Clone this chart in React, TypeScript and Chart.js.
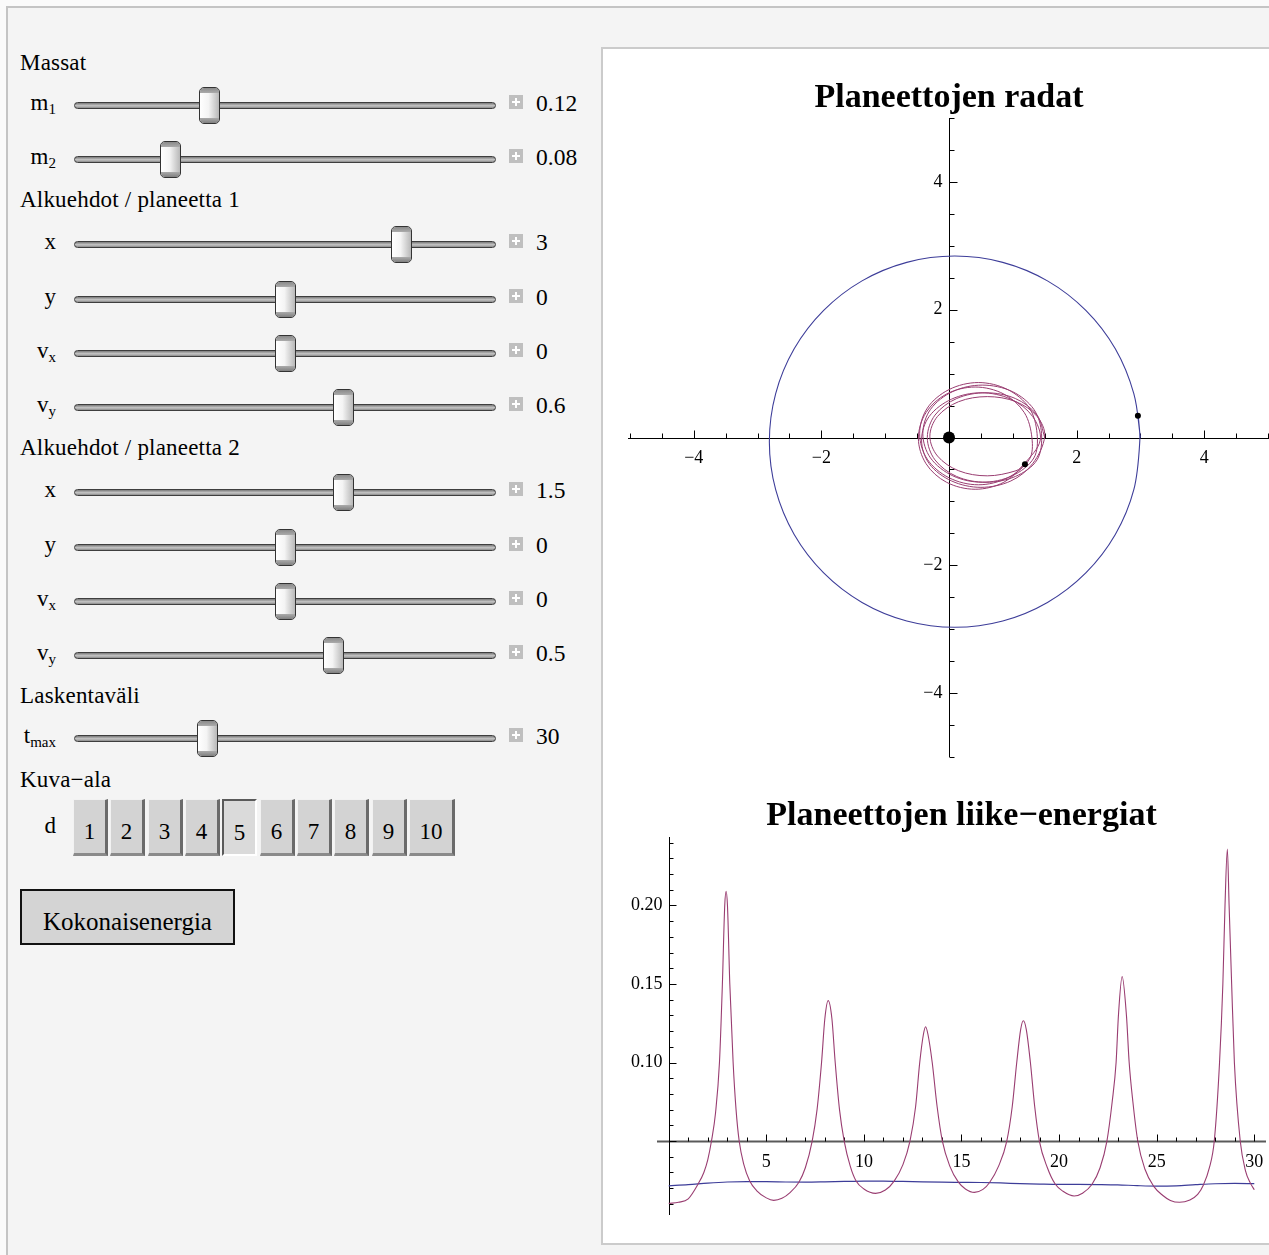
import React, { useEffect, useRef } from "react";
import { Chart, registerables } from "chart.js";

Chart.register(...registerables);

const FONT = '"Liberation Serif", "Times New Roman", serif';
const BLUE = "#3D3D99";
const PURPLE = "#993D71";

// ---------- Orbit plot (Planeettojen radat) ----------
const orbit1X = [3.0, 2.896, 2.606, 2.144, 1.543, 0.842, 0.09, -0.662, -1.363, -1.964, -2.426, -2.716, -2.815, -2.716, -2.426, -1.964, -1.363, -0.662, 0.09, 0.842, 1.543, 2.144, 2.606, 2.896, 2.99, 2.966];
const orbit1Y = [0.0, 0.687, 1.388, 1.989, 2.451, 2.741, 2.84, 2.741, 2.451, 1.989, 1.388, 0.687, -0.065, -0.817, -1.518, -2.119, -2.581, -2.871, -2.97, -2.871, -2.581, -2.119, -1.518, -0.817, -0.05, 0.339];

const orbit2X = [
  1.5, 1.38, 1.04, 0.58, 0.12, -0.22, -0.34, -0.22, 0.12, 0.58, 1.04, 1.38,
  1.45, 1.33, 0.99, 0.52, 0.06, -0.29, -0.41, -0.29, 0.06, 0.52, 0.99, 1.33,
  1.38, 1.26, 0.92, 0.46, 0.0, -0.34, -0.46, -0.34, 0.0, 0.46, 0.92, 1.26,
  1.3, 1.18, 0.86, 0.41, -0.04, -0.36, -0.48, -0.36, -0.04, 0.41, 0.86, 1.18,
  1.43, 1.31, 0.97, 0.5, 0.04, -0.31, -0.43, -0.31, 0.04, 0.5, 0.97, 1.31,
  1.5, 1.38, 1.05, 0.6, 0.15, -0.18, -0.3, -0.18, 0.15, 0.6, 1.05, 1.19,
];
const orbit2Y = [
  0.0, 0.35, 0.61, 0.7, 0.61, 0.35, 0.0, -0.35, -0.61, -0.7, -0.61, -0.35,
  0.06, 0.44, 0.72, 0.82, 0.72, 0.44, 0.06, -0.32, -0.6, -0.7, -0.6, -0.32,
  0.06, 0.46, 0.75, 0.86, 0.75, 0.46, 0.06, -0.34, -0.63, -0.74, -0.63, -0.34,
  -0.01, 0.39, 0.68, 0.79, 0.68, 0.39, -0.01, -0.41, -0.7, -0.81, -0.7, -0.41,
  -0.04, 0.33, 0.6, 0.7, 0.6, 0.33, -0.04, -0.41, -0.68, -0.78, -0.68, -0.41,
  0.02, 0.33, 0.56, 0.64, 0.56, 0.33, 0.02, -0.29, -0.52, -0.6, -0.52, -0.42,
];

const bodyX = [0, 2.96, 1.19];
const bodyY = [0, 0.34, -0.42];
const bodyRadius = [6, 3, 3];

const orbitTickValues = [-4, -2, 2, 4];
const orbitTickLabels = ["\u22124", "\u22122", "2", "4"];

// ---------- Energy plot (Planeettojen liike−energiat) ----------
const ke1Time = [0, 1, 2, 3, 4, 5, 6, 7, 8, 9, 10, 11, 12, 13, 14, 15, 16, 17, 18, 19, 20, 21, 22, 23, 24, 25, 26, 27, 28, 29, 30];
const ke1Value = [0.0215, 0.0222, 0.0232, 0.0239, 0.0241, 0.0241, 0.0239, 0.0238, 0.024, 0.0243, 0.0245, 0.0245, 0.0243, 0.024, 0.0238, 0.0237, 0.0236, 0.0233, 0.0229, 0.0226, 0.0224, 0.0224, 0.0223, 0.0221, 0.0216, 0.0213, 0.0215, 0.0222, 0.0228, 0.023, 0.0229];

const ke2Time = [
  0, 0.5, 1.0, 1.5, 1.8, 2.0, 2.19, 2.4, 2.6, 2.75, 2.87, 2.94, 3.01, 3.13, 3.3, 3.45, 3.61, 3.85, 4.15, 4.5, 5.0, 5.38,
  5.8, 6.2, 6.67, 7.0, 7.35, 7.6, 7.83, 8.0, 8.17, 8.36, 8.53, 8.75, 8.99, 9.3, 9.6, 10.0, 10.6,
  11.1, 11.55, 12.0, 12.36, 12.65, 12.86, 13.05, 13.16, 13.28, 13.5, 13.75, 14.02, 14.4, 14.84, 15.2, 15.66,
  16.1, 16.44, 16.9, 17.32, 17.6, 17.83, 18.03, 18.17, 18.32, 18.53, 18.75, 18.99, 19.4, 19.8, 20.2, 20.77,
  21.2, 21.68, 22.1, 22.45, 22.72, 22.92, 23.04, 23.23, 23.45, 23.59, 23.78, 24.03, 24.4, 24.84, 25.3, 25.7, 26.17,
  26.7, 27.1, 27.4, 27.7, 27.95, 28.22, 28.39, 28.5, 28.62, 28.71, 28.84, 28.98, 29.28, 29.55, 29.8, 30.0,
];
const ke2Value = [
  0.0103, 0.011, 0.0132, 0.0225, 0.03, 0.038, 0.05, 0.068, 0.1, 0.15, 0.2, 0.209, 0.2, 0.15, 0.1, 0.07, 0.05, 0.035, 0.0245, 0.0185, 0.0138, 0.0122,
  0.0135, 0.017, 0.0238, 0.033, 0.05, 0.07, 0.1, 0.128, 0.1394, 0.128, 0.1, 0.07, 0.05, 0.034, 0.0245, 0.0195, 0.0167,
  0.0188, 0.0245, 0.035, 0.05, 0.072, 0.1, 0.118, 0.1228, 0.118, 0.1, 0.072, 0.05, 0.034, 0.0238, 0.0195, 0.0173,
  0.0192, 0.0236, 0.034, 0.05, 0.072, 0.1, 0.121, 0.1266, 0.121, 0.1, 0.072, 0.05, 0.033, 0.0226, 0.018, 0.015,
  0.0168, 0.0223, 0.033, 0.05, 0.075, 0.1, 0.13, 0.1547, 0.13, 0.1, 0.075, 0.05, 0.032, 0.0213, 0.0155, 0.0122, 0.011,
  0.0125, 0.016, 0.0222, 0.033, 0.05, 0.1, 0.15, 0.2, 0.236, 0.2, 0.15, 0.1, 0.05, 0.031, 0.0232, 0.019,
];

const energyXTickValues = [5, 10, 15, 20, 25, 30];
const energyXTickLabels = ["5", "10", "15", "20", "25", "30"];
const energyYTickValues = [0.1, 0.15, 0.2];
const energyYTickLabels = ["0.10", "0.15", "0.20"];

// ---------- Controls ----------
const headerTexts = ["Massat", "Alkuehdot / planeetta 1", "Alkuehdot / planeetta 2", "Laskentaväli", "Kuva\u2212ala"];
const headerY = [63, 200, 448, 696, 780];
const sliderBase = ["m", "m", "x", "y", "v", "v", "x", "y", "v", "v", "t"];
const sliderSub = ["1", "2", "", "", "x", "y", "", "", "x", "y", "max"];
const sliderValues = ["0.12", "0.08", "3", "0", "0", "0.6", "1.5", "0", "0", "0.5", "30"];
const sliderThumbX = [209, 170, 401, 285, 285, 343, 343, 285, 285, 333, 207];
const sliderRowY = [105, 159, 244, 299, 353, 407, 492, 547, 601, 655, 738];
const dLabels = ["1", "2", "3", "4", "5", "6", "7", "8", "9", "10"];
const dLeft = [73, 110, 148, 185, 222, 260, 297, 334, 372, 409];
const dWidth = [35, 35, 35, 35, 35, 35, 35, 35, 35, 46];
const dSelected = 4;

type AxisSpec = {
  crossX: number;
  crossY: number;
  xMinorStep: number;
  xMajorStep: number;
  yMinorStep: number;
  yMajorStep: number;
  xMajorLen: number;
  xMinorLen: number;
  yMajorLen: number;
  yMinorLen: number;
  xTickValues: number[];
  xTickLabels: string[];
  yTickValues: number[];
  yTickLabels: string[];
  xLabelOffset: number;
  yLabelGap: number;
  xAxisColor: string;
  xAxisWidth: number;
  title: string;
  titleOffset: number;
};

function makeAxesPlugin(spec: AxisSpec) {
  return {
    id: "mmaAxes",
    beforeDatasetsDraw(chart: any) {
      const ctx = chart.ctx as CanvasRenderingContext2D;
      const a = chart.chartArea;
      const xs = chart.scales.x;
      const ys = chart.scales.y;
      const ox = Math.round(xs.getPixelForValue(spec.crossX)) + 0.5;
      const oy = Math.round(ys.getPixelForValue(spec.crossY)) + 0.5;
      ctx.save();
      ctx.strokeStyle = spec.xAxisColor;
      ctx.lineWidth = spec.xAxisWidth;
      ctx.beginPath();
      ctx.moveTo(a.left, oy);
      ctx.lineTo(a.right, oy);
      ctx.stroke();
      ctx.strokeStyle = "#000";
      ctx.lineWidth = 1;
      ctx.beginPath();
      ctx.moveTo(ox, a.top);
      ctx.lineTo(ox, a.bottom);
      ctx.stroke();
      ctx.beginPath();
      for (let i = Math.ceil(xs.min / spec.xMinorStep - 1e-9); i * spec.xMinorStep <= xs.max + 1e-9; i++) {
        const v = i * spec.xMinorStep;
        const r = v / spec.xMajorStep;
        const major = Math.abs(r - Math.round(r)) < 1e-6;
        const px = Math.round(xs.getPixelForValue(v)) + 0.5;
        ctx.moveTo(px, oy);
        ctx.lineTo(px, oy - (major ? spec.xMajorLen : spec.xMinorLen));
      }
      for (let i = Math.ceil(ys.min / spec.yMinorStep - 1e-9); i * spec.yMinorStep <= ys.max + 1e-9; i++) {
        const v = i * spec.yMinorStep;
        const r = v / spec.yMajorStep;
        const major = Math.abs(r - Math.round(r)) < 1e-6;
        const py = Math.round(ys.getPixelForValue(v)) + 0.5;
        ctx.moveTo(ox, py);
        ctx.lineTo(ox + (major ? spec.yMajorLen : spec.yMinorLen), py);
      }
      ctx.stroke();
      ctx.fillStyle = "#000";
      ctx.font = '18px "Liberation Serif", serif';
      ctx.textAlign = "center";
      ctx.textBaseline = "alphabetic";
      spec.xTickValues.forEach((v, i) => {
        ctx.fillText(spec.xTickLabels[i], xs.getPixelForValue(v), oy + spec.xLabelOffset);
      });
      ctx.textAlign = "right";
      ctx.textBaseline = "middle";
      spec.yTickValues.forEach((v, i) => {
        ctx.fillText(spec.yTickLabels[i], ox - spec.yLabelGap, ys.getPixelForValue(v));
      });
      ctx.font = 'bold 34px "Liberation Serif", serif';
      ctx.textAlign = "center";
      ctx.textBaseline = "alphabetic";
      ctx.fillText(spec.title, (a.left + a.right) / 2, a.top - spec.titleOffset);
      ctx.restore();
    },
  };
}

function Slider({ i }: { i: number }) {
  const y = sliderRowY[i];
  const tx = sliderThumbX[i];
  return (
    <>
      <div
        style={{
          position: "absolute",
          left: 8,
          width: 48,
          top: y - 17,
          height: 30,
          lineHeight: "30px",
          textAlign: "right",
          fontSize: 23,
          whiteSpace: "nowrap",
        }}
      >
        {sliderBase[i]}
        {sliderSub[i] ? (
          <span style={{ fontSize: 15, position: "relative", top: 4 }}>{sliderSub[i]}</span>
        ) : null}
      </div>
      <div
        style={{
          position: "absolute",
          left: 74,
          top: y - 3,
          width: 422,
          height: 7,
          boxSizing: "border-box",
          border: "1px solid #3e3e3e",
          borderRadius: 4,
          background: "linear-gradient(#7a7a7a, #c6c6c6 55%, #8a8a8a)",
        }}
      />
      <div
        style={{
          position: "absolute",
          left: tx - 10.5,
          top: y - 18,
          width: 21,
          height: 37,
          boxSizing: "border-box",
          border: "1px solid #333",
          borderRadius: 5,
          background: "linear-gradient(to right, #ffffff 0%, #f4f4f4 45%, #b8b8b8 100%)",
          overflow: "hidden",
        }}
      >
        <div style={{ position: "absolute", left: 0, right: 0, top: 0, height: 5, background: "linear-gradient(#8a8a8a, #ababab)" }} />
        <div style={{ position: "absolute", left: 0, right: 0, bottom: 0, height: 5, background: "linear-gradient(#ababab, #808080)" }} />
      </div>
      <div style={{ position: "absolute", left: 509, top: y - 10, width: 14, height: 14, background: "#bfbfbf" }}>
        <div style={{ position: "absolute", left: 3, top: 6, width: 8, height: 2, background: "#ffffff" }} />
        <div style={{ position: "absolute", left: 6, top: 3, width: 2, height: 8, background: "#ffffff" }} />
      </div>
      <div
        style={{
          position: "absolute",
          left: 536,
          top: y - 17,
          height: 30,
          lineHeight: "30px",
          fontSize: 23.5,
          whiteSpace: "nowrap",
        }}
      >
        {sliderValues[i]}
      </div>
    </>
  );
}

export default function App() {
  const orbitRef = useRef<HTMLCanvasElement>(null);
  const energyRef = useRef<HTMLCanvasElement>(null);

  useEffect(() => {
    const orbit1 = orbit1X.map((x, i) => ({ x, y: orbit1Y[i] }));
    const orbit2 = orbit2X.map((x, i) => ({ x, y: orbit2Y[i] }));
    const bodies = bodyX.map((x, i) => ({ x, y: bodyY[i] }));

    const orbitChart = new Chart(orbitRef.current as HTMLCanvasElement, {
      type: "scatter",
      data: {
        datasets: [
          {
            data: bodies,
            showLine: false,
            pointRadius: bodyRadius,
            pointBackgroundColor: "#000",
            pointBorderWidth: 0,
            order: 0,
          },
          {
            data: orbit2,
            showLine: true,
            borderColor: PURPLE,
            borderWidth: 1,
            pointRadius: 0,
            tension: 0.34,
            order: 1,
          },
          {
            data: orbit1,
            showLine: true,
            borderColor: BLUE,
            borderWidth: 1.1,
            pointRadius: 0,
            tension: 0.34,
            order: 2,
          },
        ],
      } as any,
      options: {
        responsive: false,
        animation: false,
        events: [],
        layout: { padding: { left: 27, top: 71, right: 31, bottom: 23 } },
        scales: {
          x: { type: "linear", min: -5.03, max: 5.03, display: false },
          y: { type: "linear", min: -5, max: 5, display: false },
        },
        plugins: { legend: { display: false }, tooltip: { enabled: false } },
      } as any,
      plugins: [
        makeAxesPlugin({
          crossX: 0,
          crossY: 0,
          xMinorStep: 0.5,
          xMajorStep: 2,
          yMinorStep: 0.5,
          yMajorStep: 2,
          xMajorLen: 8,
          xMinorLen: 5,
          yMajorLen: 8,
          yMinorLen: 5,
          xTickValues: orbitTickValues,
          xTickLabels: orbitTickLabels,
          yTickValues: orbitTickValues,
          yTickLabels: orbitTickLabels,
          xLabelOffset: 24,
          yLabelGap: 7,
          xAxisColor: "#000",
          xAxisWidth: 1,
          title: "Planeettojen radat",
          titleOffset: 11,
        }),
      ],
    });

    const ke1 = ke1Time.map((x, i) => ({ x, y: ke1Value[i] }));
    const ke2 = ke2Time.map((x, i) => ({ x, y: ke2Value[i] }));

    const energyChart = new Chart(energyRef.current as HTMLCanvasElement, {
      type: "scatter",
      data: {
        datasets: [
          {
            data: ke2,
            showLine: true,
            borderColor: PURPLE,
            borderWidth: 1.1,
            pointRadius: 0,
            cubicInterpolationMode: "monotone",
            order: 0,
          },
          {
            data: ke1,
            showLine: true,
            borderColor: BLUE,
            borderWidth: 1.2,
            pointRadius: 0,
            cubicInterpolationMode: "monotone",
            order: 1,
          },
        ],
      } as any,
      options: {
        responsive: false,
        animation: false,
        events: [],
        layout: { padding: { left: 56, top: 57, right: 35, bottom: 30 } },
        scales: {
          x: { type: "linear", min: -0.6, max: 30.6, display: false },
          y: { type: "linear", min: 0.0029, max: 0.2436, display: false },
        },
        plugins: { legend: { display: false }, tooltip: { enabled: false } },
      } as any,
      plugins: [
        makeAxesPlugin({
          crossX: 0,
          crossY: 0.05,
          xMinorStep: 1,
          xMajorStep: 5,
          yMinorStep: 0.01,
          yMajorStep: 0.05,
          xMajorLen: 7,
          xMinorLen: 4,
          yMajorLen: 7,
          yMinorLen: 4,
          xTickValues: energyXTickValues,
          xTickLabels: energyXTickLabels,
          yTickValues: energyYTickValues,
          yTickLabels: energyYTickLabels,
          xLabelOffset: 25,
          yLabelGap: 7,
          xAxisColor: "#5a5a5a",
          xAxisWidth: 2,
          title: "Planeettojen liike\u2212energiat",
          titleOffset: 12,
        }),
      ],
    });

    return () => {
      orbitChart.destroy();
      energyChart.destroy();
    };
  }, []);

  return (
    <div
      style={{
        position: "absolute",
        left: 0,
        top: 0,
        width: 1269,
        height: 1255,
        overflow: "hidden",
        background: "#fafafa",
        fontFamily: FONT,
        color: "#000",
      }}
    >
      <div
        style={{
          position: "absolute",
          left: 6,
          top: 6,
          width: 1400,
          height: 1400,
          borderLeft: "2px solid #c4c4c4",
          borderTop: "2px solid #c4c4c4",
          background: "#f4f4f4",
        }}
      />
      {headerTexts.map((t, i) => (
        <div
          key={"h" + i}
          style={{
            position: "absolute",
            left: 20,
            top: headerY[i] - 15,
            height: 30,
            lineHeight: "30px",
            fontSize: 23,
            letterSpacing: 0.2,
            whiteSpace: "nowrap",
          }}
        >
          {t}
        </div>
      ))}
      {sliderRowY.map((_, i) => (
        <Slider key={"s" + i} i={i} />
      ))}
      <div
        style={{
          position: "absolute",
          left: 8,
          width: 48,
          top: 811,
          height: 30,
          lineHeight: "30px",
          textAlign: "right",
          fontSize: 23,
        }}
      >
        d
      </div>
      {dLabels.map((t, i) => {
        const sel = i === dSelected;
        return (
          <div
            key={"d" + i}
            style={{
              position: "absolute",
              left: dLeft[i],
              top: 799,
              width: dWidth[i],
              height: 57,
              boxSizing: "border-box",
              background: sel ? "#dadada" : "#d3d3d3",
              borderTop: sel ? "2px solid #5a5a5a" : "1px solid #f2f2f2",
              borderLeft: sel ? "2px solid #5a5a5a" : "1px solid #f2f2f2",
              borderRight: sel ? "2px solid #ffffff" : "3px solid #6a6a6a",
              borderBottom: sel ? "2px solid #ffffff" : "3px solid #8a8a8a",
              fontSize: 23,
              textAlign: "center",
              lineHeight: "30px",
              paddingTop: 17,
            }}
          >
            {t}
          </div>
        );
      })}
      <div
        style={{
          position: "absolute",
          left: 20,
          top: 889,
          width: 215,
          height: 56,
          boxSizing: "border-box",
          border: "2px solid #111",
          background: "#d4d4d4",
          fontSize: 25,
          textAlign: "center",
          lineHeight: "30px",
          paddingTop: 16,
          whiteSpace: "nowrap",
        }}
      >
        Kokonaisenergia
      </div>
      <div
        style={{
          position: "absolute",
          left: 601,
          top: 47,
          width: 800,
          height: 1198,
          boxSizing: "border-box",
          border: "2px solid #cbcbcb",
          background: "#ffffff",
        }}
      />
      <canvas
        ref={orbitRef}
        width={700}
        height={733}
        style={{ position: "absolute", left: 601, top: 47, width: 700, height: 733, display: "block" }}
      />
      <canvas
        ref={energyRef}
        width={700}
        height={465}
        style={{ position: "absolute", left: 601, top: 780, width: 700, height: 465, display: "block" }}
      />
    </div>
  );
}
